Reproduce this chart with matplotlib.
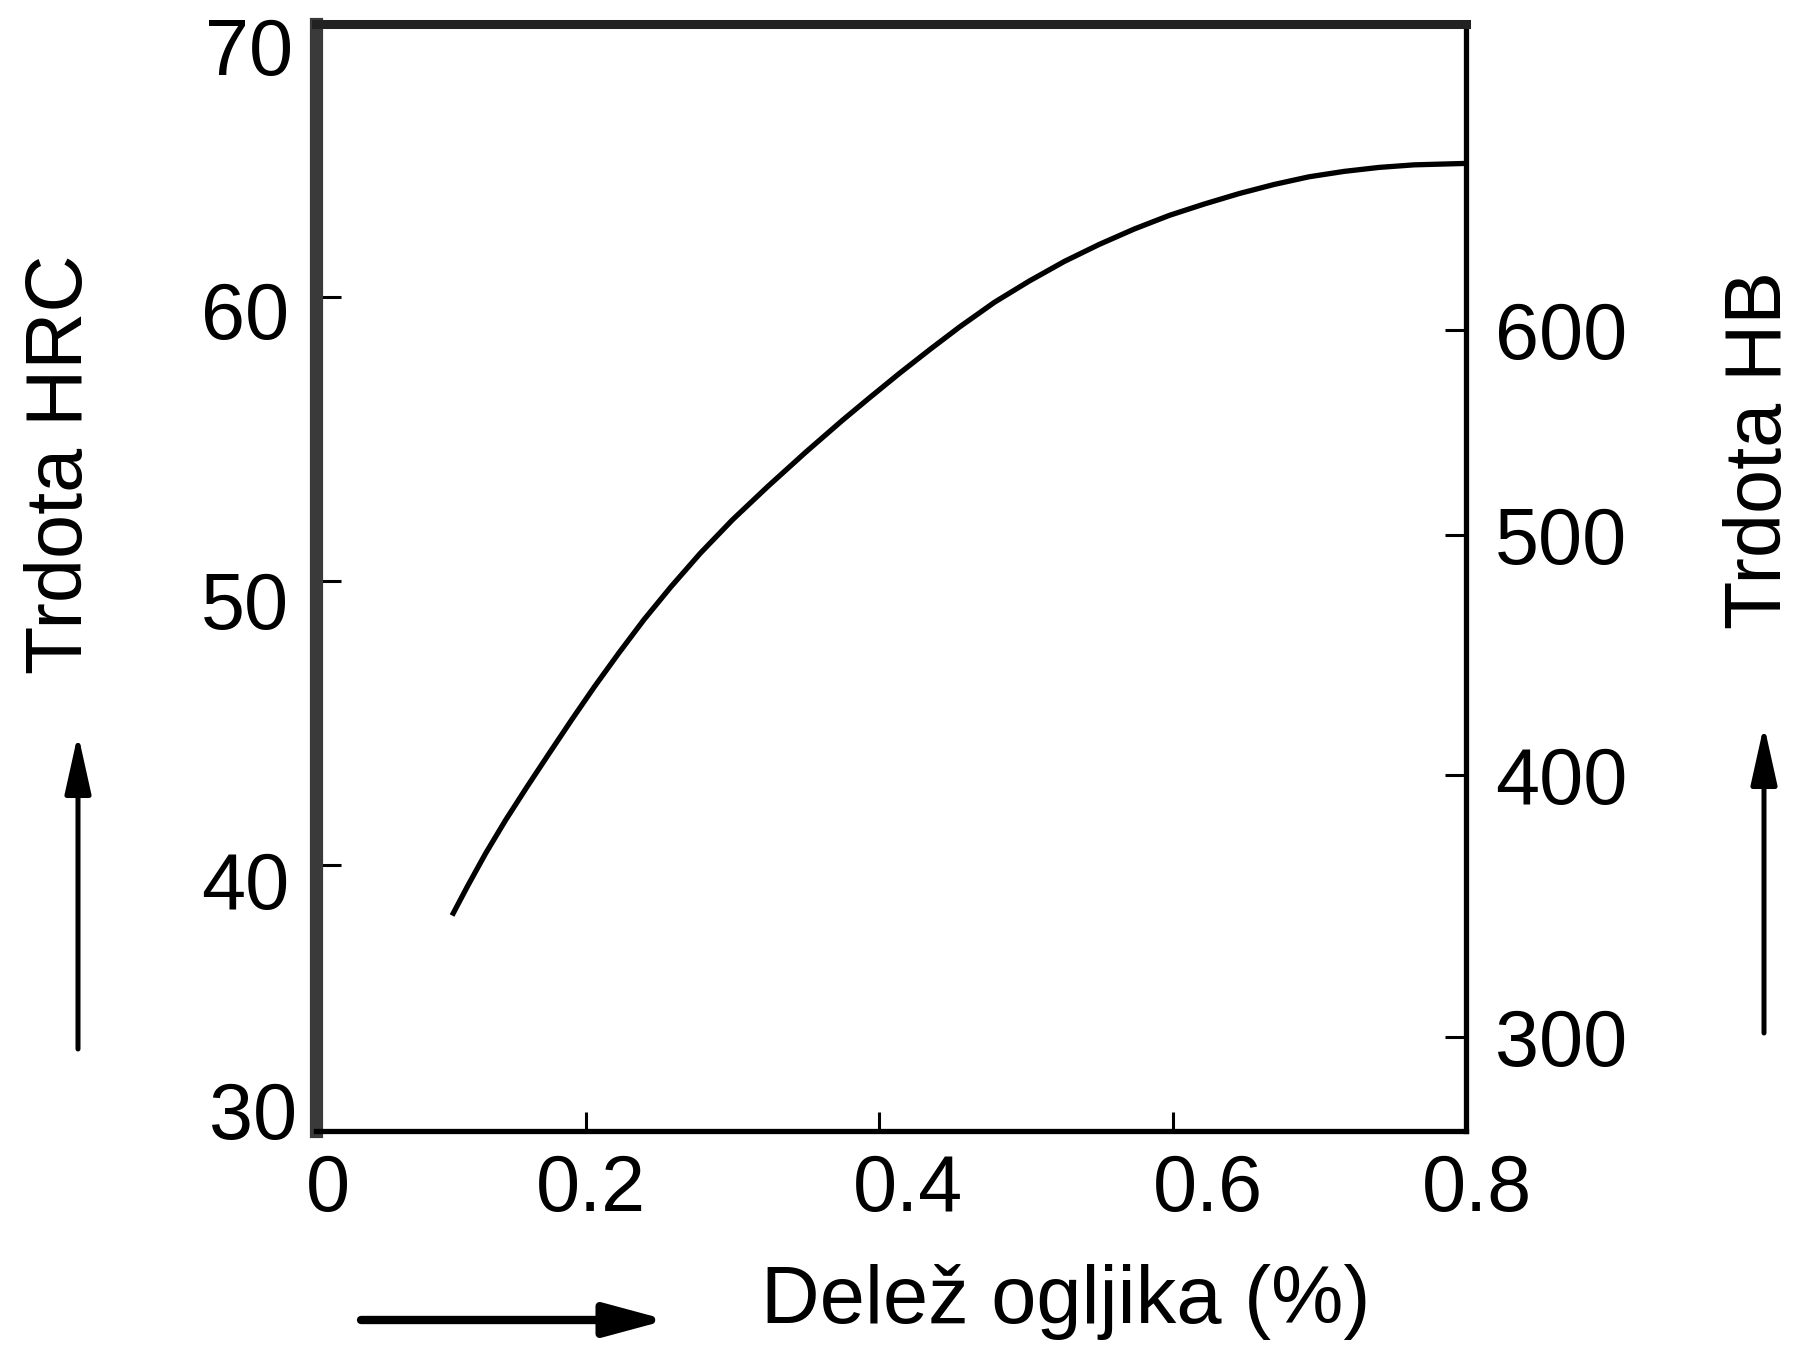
import matplotlib
matplotlib.use("Agg")
import matplotlib.pyplot as plt
from matplotlib.patches import FancyArrowPatch
from matplotlib.transforms import ScaledTranslation

plt.rcParams['font.family'] = ['Liberation Sans', 'DejaVu Sans']

# Data (carbon content %, hardness HRC)
carbon = [0.1096, 0.1192, 0.1317, 0.1453, 0.1600, 0.1750, 0.1903, 0.2059,
          0.2223, 0.2395, 0.2581, 0.2781, 0.2999, 0.3239, 0.3498, 0.3750,
          0.3934, 0.4138, 0.4343, 0.4547, 0.4785, 0.5023, 0.5262, 0.5500,
          0.5738, 0.5977, 0.6215, 0.6454, 0.6692, 0.6930, 0.7169, 0.7407,
          0.7645, 0.7993]
hrc = [38.30, 39.24, 40.41, 41.58, 42.76, 43.93, 45.11, 46.28,
       47.45, 48.63, 49.80, 50.98, 52.15, 53.32, 54.53, 55.66,
       56.45, 57.31, 58.14, 58.94, 59.81, 60.56, 61.25, 61.85,
       62.39, 62.87, 63.27, 63.64, 63.96, 64.23, 64.42, 64.56,
       64.65, 64.70]

x_min, x_max = 0.016, 0.8
y_min, y_max = 30.63, 69.61
x_ticks = [0.2, 0.4, 0.6, 0.8]
x_tick_labels = ['0.2', '0.4', '0.6', '0.8']
hrc_ticks = [40, 50, 60]
hrc_tick_labels = ['40', '50', '60']
# Brinell scale: tick positions expressed in HRC
hb_positions = [58.84, 51.62, 43.17, 33.94]
hb_labels = ['600', '500', '400', '300']

# label nudges in pixels (style only)
x_label_nudge = [5, 29, 35, 11]
y_label_nudge = [-24, -28, -22]

W, H = 1798, 1347
fig = plt.figure(figsize=(W / 100, H / 100), dpi=100)
ax = fig.add_axes([316 / W, 1 - 1131 / H, (1466 - 316) / W, (1131 - 24) / H])

ax.plot(carbon, hrc, color='black', lw=3.8, solid_joinstyle='round')
ax.set_xlim(x_min, x_max)
ax.set_ylim(y_min, y_max)

ax.set_xticks(x_ticks)
ax.set_xticklabels([])
ax.set_yticks(hrc_ticks)
ax.set_yticklabels([])

fs = 57
ax.tick_params(axis='x', direction='in', length=14, width=2.2, color='black')
ax.tick_params(axis='y', direction='in', length=18, width=2.2, color='black')


def px(dx, dy):
    return ScaledTranslation(dx / 100, dy / 100, fig.dpi_scale_trans)

# x tick labels
for xv, lab, nd in zip(x_ticks, x_tick_labels, x_label_nudge):
    ax.text(xv, 0, lab, fontsize=fs, ha='center', va='center',
            transform=ax.get_xaxis_transform() + px(nd, -59))
# left y tick labels
for yv, lab, nd in zip(hrc_ticks, hrc_tick_labels, y_label_nudge):
    ax.text(0, yv, lab, fontsize=fs, ha='right', va='center',
            transform=ax.get_yaxis_transform() + px(-27, nd))

# Corner labels of the scales (no tick marks there in the original)
fig.text(293 / W, 1 - 54 / H, '70', fontsize=fs, ha='right', va='center')
fig.text(297 / W, 1 - 1119 / H, '30', fontsize=fs, ha='right', va='center')
fig.text(328 / W, 1 - 1190 / H, '0', fontsize=fs, ha='center', va='center')

ax.spines['left'].set_linewidth(9.5)
ax.spines['left'].set_color('#3a3a3a')
ax.spines['top'].set_linewidth(6.5)
ax.spines['top'].set_color('#222222')
ax.spines['right'].set_linewidth(3.8)
ax.spines['bottom'].set_linewidth(3.8)
for s in ax.spines.values():
    s.set_capstyle('projecting')

ax2 = ax.twinx()
ax2.set_ylim(y_min, y_max)
ax2.set_yticks(hb_positions)
ax2.set_yticklabels(hb_labels)
ax2.tick_params(axis='y', direction='in', length=15, width=2.2, pad=21,
                labelsize=fs, color='black')
for s in ax2.spines.values():
    s.set_visible(False)

# Axis titles
fig.text(62 / W, 1 - 464 / H, 'Trdota HRC', rotation=90, fontsize=57,
         ha='center', va='center')
fig.text(1760 / W, 1 - 450 / H, 'Trdota HB', rotation=90, fontsize=57,
         ha='center', va='center')
fig.text(1066 / W, 1 - 1302 / H, 'Delež ogljika (%)', fontsize=58.5,
         ha='center', va='center')

# Arrows
def arrow(p0, p1, lw, hl, hw):
    a = FancyArrowPatch((p0[0] / W, 1 - p0[1] / H), (p1[0] / W, 1 - p1[1] / H),
                        transform=fig.transFigure,
                        arrowstyle=f'-|>,head_length={hl},head_width={hw}',
                        mutation_scale=1, lw=lw, color='black',
                        shrinkA=0, shrinkB=0)
    fig.add_artist(a)

arrow((78, 1049), (78, 734), 3.6, 36, 8)
arrow((1764, 1033), (1764, 725), 3.6, 36, 8)
arrow((361, 1320), (667, 1320), 6.0, 37, 10)

fig.savefig('out.png', dpi=100, facecolor='white')
